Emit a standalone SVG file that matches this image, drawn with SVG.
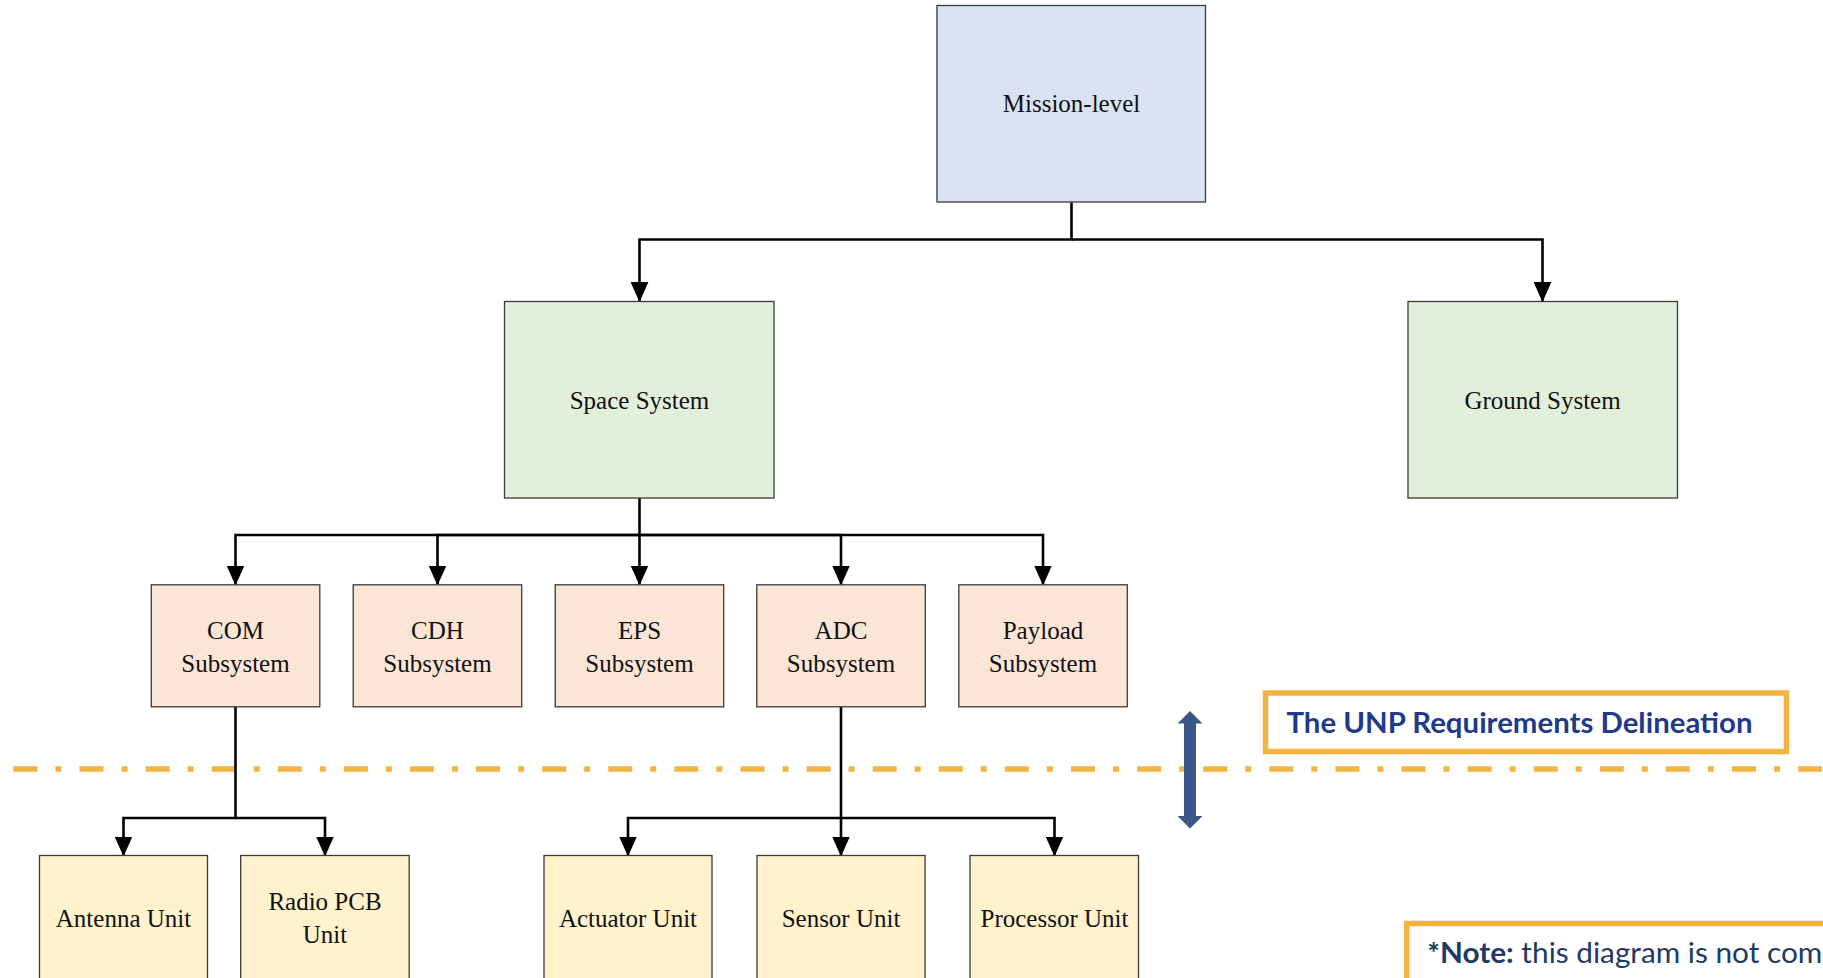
<svg xmlns="http://www.w3.org/2000/svg" width="1823" height="978" viewBox="0 0 1823 978">
  <defs>
    <style>
      .box { stroke: #3a3a3a; stroke-width: 1.3; }
      .mission { fill: #DAE3F3; }
      .system { fill: #E2EFDA; }
      .subsys { fill: #FBE5D6; }
      .unit { fill: #FFF2CC; }
      .lbl { font-family: "Liberation Serif", "Times New Roman", serif; font-size: 25px; fill: #111; text-anchor: middle; }
      .conn { fill: none; stroke: #000; stroke-width: 2.6; stroke-linejoin: miter; marker-end: url(#arrow); }
      .conn-plain { fill: none; stroke: #000; stroke-width: 2.6; }
      .delin { fill: none; stroke: #F4B440; stroke-width: 5.5; stroke-dasharray: 24 18 6 18.1; }
      .callout { fill: #fff; stroke: #F4B440; stroke-width: 5.5; }
    </style>
    <marker id="arrow" markerUnits="userSpaceOnUse" markerWidth="20" markerHeight="18" viewBox="0 0 18 16" refX="17" refY="8" orient="auto">
      <path d="M0,0 L18,8 L0,16 z" fill="#000"/>
    </marker>
  </defs>

  <rect width="1823" height="978" fill="#fff"/>

  <!-- delineation line between subsystem and unit levels -->
  <line class="delin" x1="13.4" y1="769" x2="1823" y2="769"/>

  <!-- connectors -->
  <g id="connectors">
    <path class="conn" d="M1071.5 202.5 V239.5 H639.5 V301"/>
    <path class="conn" d="M1071.5 239.5 H1542.5 V301"/>
    <path class="conn" d="M639.5 498 V584.5"/>
    <path class="conn" d="M639.5 535 H235.5 V584.5"/>
    <path class="conn" d="M639.5 535 H437.5 V584.5"/>
    <path class="conn" d="M639.5 535 H841 V584.5"/>
    <path class="conn" d="M639.5 535 H1043 V584.5"/>
    <path class="conn" d="M235.5 707 V818 H123.5 V855.5"/>
    <path class="conn" d="M235.5 818 H325 V855.5"/>
    <path class="conn" d="M841 707 V855.5"/>
    <path class="conn" d="M841 818 H628 V855.5"/>
    <path class="conn" d="M841 818 H1054.5 V855.5"/>
  </g>

  <!-- mission level -->
  <g id="mission-level">
    <rect class="box mission" x="937" y="5.5" width="268.5" height="196.5"/>
    <text class="lbl" x="1071.5" y="112">Mission-level</text>
  </g>

  <!-- system level -->
  <g id="space-system">
    <rect class="box system" x="504.5" y="301.5" width="269.5" height="196.5"/>
    <text class="lbl" x="639.5" y="409">Space System</text>
  </g>
  <g id="ground-system">
    <rect class="box system" x="1408" y="301.5" width="269.5" height="196.5"/>
    <text class="lbl" x="1542.5" y="409">Ground System</text>
  </g>

  <!-- subsystems -->
  <g id="com-subsystem">
    <rect class="box subsys" x="151.3" y="584.8" width="168.5" height="122"/>
    <text class="lbl" x="235.5" y="639">COM</text>
    <text class="lbl" x="235.5" y="672">Subsystem</text>
  </g>
  <g id="cdh-subsystem">
    <rect class="box subsys" x="353.2" y="584.8" width="168.5" height="122"/>
    <text class="lbl" x="437.5" y="639">CDH</text>
    <text class="lbl" x="437.5" y="672">Subsystem</text>
  </g>
  <g id="eps-subsystem">
    <rect class="box subsys" x="555.2" y="584.8" width="168.5" height="122"/>
    <text class="lbl" x="639.5" y="639">EPS</text>
    <text class="lbl" x="639.5" y="672">Subsystem</text>
  </g>
  <g id="adc-subsystem">
    <rect class="box subsys" x="756.8" y="584.8" width="168.5" height="122"/>
    <text class="lbl" x="841" y="639">ADC</text>
    <text class="lbl" x="841" y="672">Subsystem</text>
  </g>
  <g id="payload-subsystem">
    <rect class="box subsys" x="958.8" y="584.8" width="168.5" height="122"/>
    <text class="lbl" x="1043" y="639">Payload</text>
    <text class="lbl" x="1043" y="672">Subsystem</text>
  </g>

  <!-- units -->
  <g id="antenna-unit">
    <rect class="box unit" x="39.5" y="855.5" width="168" height="140"/>
    <text class="lbl" x="123.5" y="927">Antenna Unit</text>
  </g>
  <g id="radio-pcb-unit">
    <rect class="box unit" x="240.7" y="855.5" width="168.5" height="140"/>
    <text class="lbl" x="325" y="910">Radio PCB</text>
    <text class="lbl" x="325" y="943">Unit</text>
  </g>
  <g id="actuator-unit">
    <rect class="box unit" x="544" y="855.5" width="168" height="140"/>
    <text class="lbl" x="628" y="927">Actuator Unit</text>
  </g>
  <g id="sensor-unit">
    <rect class="box unit" x="757" y="855.5" width="168" height="140"/>
    <text class="lbl" x="841" y="927">Sensor Unit</text>
  </g>
  <g id="processor-unit">
    <rect class="box unit" x="970" y="855.5" width="168.5" height="140"/>
    <text class="lbl" x="1054.5" y="927">Processor Unit</text>
  </g>

  <!-- double-headed span marker across the delineation -->
  <g id="span-arrow">
    <path d="M1190 711 L1202.5 723.5 L1196 723.5 L1196 816 L1202.5 816 L1190 828.5 L1177.5 816 L1184 816 L1184 723.5 L1177.5 723.5 z" fill="#3D5587"/>
  </g>

  <!-- delineation callout -->
  <g id="delineation-label">
    <rect class="callout" x="1265.5" y="693" width="521" height="58.5"/>
    <text x="1286.5" y="732.5" font-family="Lato, Carlito, sans-serif" font-weight="bold" font-size="28" fill="#1F3A8A" textLength="466" lengthAdjust="spacingAndGlyphs">The UNP Requirements Delineation</text>
  </g>

  <!-- note callout -->
  <g id="note">
    <rect class="callout" x="1406.7" y="923.5" width="500" height="100"/>
    <text x="1427.3" y="962.5" font-family="Lato, Carlito, sans-serif" font-size="29" fill="#223A63" textLength="395" lengthAdjust="spacingAndGlyphs"><tspan font-weight="bold">*Note:</tspan> this diagram is not com</text>
  </g>
</svg>
